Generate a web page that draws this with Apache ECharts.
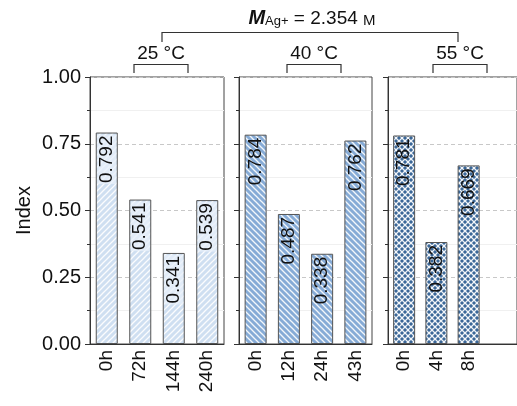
<!DOCTYPE html>
<html>
<head>
<meta charset="utf-8">
<script src="https://cdn.jsdelivr.net/npm/echarts@6/dist/echarts.min.js"></script>
<style>
  html, body { margin: 0; padding: 0; background: #fff; }
  #main { width: 517px; height: 406px; }
</style>
</head>
<body>
<div id="main"></div>
<script>
  // data
  var temps = ['25 °C', '40 °C', '55 °C'];
  var cats25 = ['0h', '72h', '144h', '240h'];
  var vals25 = [0.792, 0.541, 0.341, 0.539];
  var cats40 = ['0h', '12h', '24h', '43h'];
  var vals40 = [0.784, 0.487, 0.338, 0.762];
  var cats55 = ['0h', '4h', '8h', ''];
  var vals55 = [0.781, 0.382, 0.669, '-'];
  var yTicks = [0, 0.25, 0.5, 0.75, 1];

  var FONT = 'Liberation Sans, Arial, sans-serif';

  // hatch patterns
  function hatch(bg, type) {
    var c = document.createElement('canvas');
    var s = 6;
    c.width = s; c.height = s;
    var g = c.getContext('2d');
    g.fillStyle = bg;
    g.fillRect(0, 0, s, s);
    g.strokeStyle = 'rgba(255,255,255,0.9)';
    g.lineWidth = 1.3;
    function line(x1, y1, x2, y2) {
      g.beginPath(); g.moveTo(x1, y1); g.lineTo(x2, y2); g.stroke();
    }
    if (type === 'fwd' || type === 'cross') {
      line(-1, s + 1, s + 1, -1);
      line(-s - 1, s + 1, 1, -1);
      line(s - 1, s + 1, 2 * s + 1, -1);
    }
    if (type === 'back' || type === 'cross') {
      line(-1, -1, s + 1, s + 1);
      line(-s - 1, -1, 1, s + 1);
      line(s - 1, -1, 2 * s + 1, s + 1);
    }
    return { image: c, repeat: 'repeat' };
  }

  var fills = [hatch('#cfdff1', 'fwd'), hatch('#86abd6', 'back'), hatch('#3a6798', 'cross')];
  var labelBg = ['rgba(232,240,250,0.75)', 'transparent', 'transparent'];

  var lefts = [90, 239, 388];
  var gridTop = 77, gridH = 267, gridW = 134;

  var catsAll = [cats25, cats40, cats55];
  var valsAll = [vals25, vals40, vals55];

  var grids = [], xAxes = [], yAxes = [], series = [];
  for (var i = 0; i < 3; i++) {
    grids.push({
      left: lefts[i], top: gridTop, width: gridW - (i ? 1 : 0), height: gridH,
      show: true, borderColor: '#444', borderWidth: 1, backgroundColor: 'transparent'
    });
    // main axis: ticks under labels
    xAxes.push({
      type: 'category', gridIndex: i, data: catsAll[i],
      axisLine: { lineStyle: { color: '#333', width: 1 } },
      axisTick: { alignWithLabel: true, length: 5, lineStyle: { color: '#333' } },
      axisLabel: { rotate: 90, fontSize: 19, color: '#111', fontFamily: FONT, margin: 6, interval: 0 }
    });
    // boundary ticks
    xAxes.push({
      type: 'category', gridIndex: i, data: catsAll[i], position: 'top', offset: -gridH,
      axisLine: { show: false },
      axisTick: { inside: true, length: 3, lineStyle: { color: '#333' } },
      axisLabel: { show: false }
    });
    yAxes.push({
      type: 'value', gridIndex: i, min: 0, max: 1, interval: 0.25,
      name: i === 0 ? 'Index' : '', nameLocation: 'middle', nameGap: 56,
      nameTextStyle: { fontSize: 20, color: '#111', fontFamily: FONT },
      axisLine: { show: true, lineStyle: { color: '#333' } },
      axisTick: { show: true, length: 5, lineStyle: { color: '#333' } },
      minorTick: { show: true, splitNumber: 2, length: 3, lineStyle: { color: '#333' } },
      axisLabel: {
        show: i === 0, fontSize: 20, color: '#111', fontFamily: FONT, margin: 9,
        formatter: function (v) { return yTicks.indexOf(v) >= 0 ? v.toFixed(2) : ''; }
      },
      splitLine: { show: true, lineStyle: { color: '#c8c8c8', type: [4, 3] } },
      minorSplitLine: { show: true, lineStyle: { color: '#f0f0f0' } }
    });
    series.push({
      type: 'bar', xAxisIndex: i * 2, yAxisIndex: i, data: valsAll[i],
      barWidth: 22,
      itemStyle: { color: fills[i], borderColor: '#555', borderWidth: 1 },
      label: {
        show: true, position: 'insideTop', rotate: 90, align: 'right', verticalAlign: 'middle',
        distance: 2, fontSize: 19, color: '#111', fontFamily: FONT,
        backgroundColor: labelBg[i], padding: [0, 1],
        formatter: function (p) { return p.value.toFixed(3); }
      },
      silent: true, animation: false
    });
  }

  var tempX = [161, 314, 460];
  var graphics = [];
  for (var j = 0; j < 3; j++) {
    graphics.push({
      type: 'text', x: tempX[j], y: 54,
      style: { text: temps[j], fontSize: 19, fontFamily: FONT, fill: '#111', align: 'center', verticalAlign: 'middle' }
    });
    graphics.push({
      type: 'polyline',
      shape: { points: [[tempX[j] - 27, 73], [tempX[j] - 27, 64.5], [tempX[j] + 27, 64.5], [tempX[j] + 27, 73]] },
      style: { stroke: '#333', lineWidth: 1.2, fill: null }
    });
  }
  graphics.push({
    type: 'polyline',
    shape: { points: [[162, 42], [162, 32.5], [458, 32.5], [458, 42]] },
    style: { stroke: '#333', lineWidth: 1.2, fill: null }
  });
  graphics.push({
    type: 'text', x: 312, y: 4,
    style: {
      text: '{b|M}{s|Ag+}{n| = 2.354 }{m|M}',
      align: 'center',
      rich: {
        b: { fontSize: 20, fontWeight: 'bold', fontStyle: 'italic', fontFamily: FONT, fill: '#111', lineHeight: 24, verticalAlign: 'bottom' },
        s: { fontSize: 13, fontFamily: FONT, fill: '#111', lineHeight: 24, verticalAlign: 'bottom', padding: [8, 0, 0, 0] },
        n: { fontSize: 19, fontFamily: FONT, fill: '#111', lineHeight: 24, verticalAlign: 'bottom' },
        m: { fontSize: 15, fontFamily: FONT, fill: '#111', lineHeight: 24, verticalAlign: 'bottom' }
      }
    }
  });

  var myChart = echarts.init(document.getElementById('main'));
  var option = {
    backgroundColor: '#fff',
    animation: false,
    grid: grids,
    xAxis: xAxes,
    yAxis: yAxes,
    series: series,
    graphic: graphics
  };
  myChart.setOption(option);
</script>
</body>
</html>
